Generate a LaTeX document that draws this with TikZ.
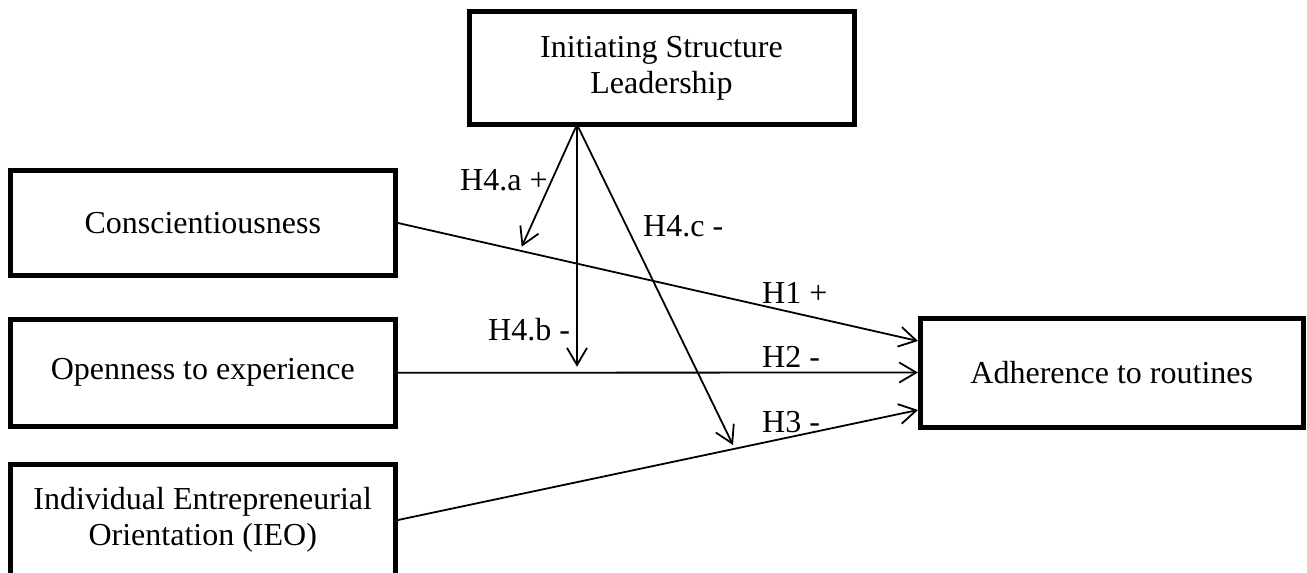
\documentclass[tikz,border=0pt]{standalone}
\usepackage{fontspec}
\setmainfont{Liberation Serif}
\usetikzlibrary{arrows.meta}
\tikzset{
  box/.style={draw=black, line width=5pt, fill=white, align=center, inner sep=0pt,
    font=\fontsize{32}{36}\selectfont},
  lab/.style={inner sep=0pt, anchor=base west, font=\fontsize{32}{36}\selectfont},
  conn/.style={line width=1.8pt, -{Straight Barb[length=17pt,width=20pt,line width=1.8pt]}}
}
\begin{document}
\begin{tikzpicture}[x=1pt,y=-1pt]
\useasboundingbox (0,0) rectangle (1307,573);
\node[box, minimum width=385pt, minimum height=113pt] (isl) at (661.5,68) {Initiating Structure\\Leadership};
\node[box, minimum width=385.5pt, minimum height=105pt] (con) at (202.75,223) {Conscientiousness};
\node[box, minimum width=385.5pt, minimum height=107.5pt] (ope) at (202.75,372.75) {Openness to experience};
\node[box, minimum width=385.5pt, minimum height=112pt] (ieo) at (202.75,520) {Individual Entrepreneurial\\Orientation (IEO)};
\node[box, minimum width=382.5pt, minimum height=109pt] (adh) at (1111.75,372.5) {Adherence to routines};

\coordinate (src) at (577,124.5);
\coordinate (ta) at (521.7,246.7);
\coordinate (tb) at (577,366.7);
\coordinate (tc) at (733,445);
\coordinate (e1) at (918,341);
\coordinate (e2) at (918,372.5);
\coordinate (e3) at (918,410);

\draw[conn] (con.east) -- (e1);
\draw[conn] (ope.east) -- (e2);
\draw[conn] (ieo.east) -- (e3);
\draw[conn] (src) -- (ta);
\draw[conn] (src) -- (tb);
\draw[conn] (src) -- (tc);

\node[lab] (la) at (460,190.7) {H4.a +};
\node[lab] (lc) at (643,236) {H4.c -};
\node[lab] (lb) at (488,340) {H4.b -};
\node[lab] (l1) at (762,303) {H1 +};
\node[lab] (l2) at (762,367) {H2 -};
\node[lab] (l3) at (762,432) {H3 -};
\end{tikzpicture}
\end{document}
